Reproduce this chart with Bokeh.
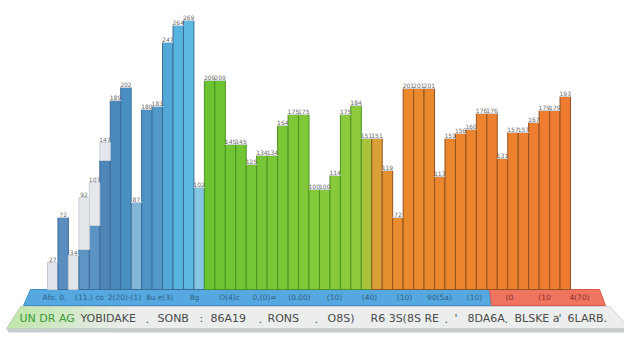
from bokeh.plotting import figure
from bokeh.models import Range1d, ColumnDataSource
from bokeh.core.properties import value
from bokeh.embed import file_html
from bokeh.resources import INLINE

# ---- data ----
main_vals = [27, 72, 34, 40, 64, 129, 189, 202, 87, 180,
             183, 247, 264, 269, 102, 209, 209, 145, 145, 125,
             134, 134, 164, 175, 175, 100, 100, 114, 175, 184,
             151, 151, 119, 72, 201, 201, 201, 113, 151, 156,
             160, 176, 176, 131, 157, 157, 167, 179, 179, 193]
cap_vals = [0, 0, 0, 52, 43, 18] + [0] * 44
band_labels = ["Afo. 0.", "(11.) co", "2(20)-(1)", "8u e(3)", "8g", "O(4)c",
               "0,(0)=", "(0.00)", "(10)", "(40)", "(10)", "90(5a)",
               "(10)", "(0", "(10", "4(70)"]
footer_green = "UN DR AG"
footer_words = ["YOBIDAKE", ".", "SONB", ":", "86A19", ".", "RONS", ".",
                "O8S)", "R6 3S(8S RE", ".", "'", "8DA6A", ".", "BLSKE a", "'", "6LARB."]

n = len(main_vals)

# ---- colours (style) ----
def bar_color(i):
    light = {0: "#dfe4ea", 2: "#e1e5ea"}
    blues = {1: "#5a8ec0", 3: "#5d95c5", 4: "#5b93c4", 5: "#4e86b8", 6: "#4b88bb",
             7: "#4a8fc2", 8: "#82b5d6", 9: "#4e93c4", 10: "#4f98c8", 11: "#52a8d6",
             12: "#58b3de", 13: "#5bb9e0", 14: "#86c6e0"}
    if i in light:
        return light[i]
    if i in blues:
        return blues[i]
    if i < 30:
        t = (i - 15) / 14
        r = int(0x6a + t * (0x8e - 0x6a)); g = int(0xc4 + t * (0xcb - 0xc4)); b = int(0x30 + t * (0x3e - 0x30))
        return "#%02x%02x%02x" % (r, g, b)
    if i == 30:
        return "#a8c23b"
    if i == 31:
        return "#d9a037"
    if i == 32:
        return "#e3902f"
    t = (i - 33) / 16
    r = int(0xea + t * (0xef - 0xea)); g = int(0x8c - t * (0x8c - 0x7b)); b = int(0x2d + t * 4)
    return "#%02x%02x%02x" % (r, g, b)

def line_color(i):
    if i in (0, 2):
        return "#c3cad3"
    if i < 15:
        return "#3b6d98"
    if i < 31:
        return "#4b9322"
    return "#93511c"

colors = [bar_color(i) for i in range(n)]
lines = [line_color(i) for i in range(n)]

# ---- geometry ----
W, H = 624, 344
PX = 10.46
x0 = -0.5 - (55 - 8) / PX
x1 = x0 + W / PX
def X(px):
    return x0 + (px - 8) / PX
def Y(py):
    return 297 - py

p = figure(width=W, height=H, output_backend="svg", toolbar_location=None,
           x_range=Range1d(x0, x1), y_range=Range1d(-55, 289),
           min_border=0, outline_line_color=None, background_fill_color="white")
p.axis.visible = False
p.grid.visible = False

# base: blue band with red end
p.patch([X(38), X(497), X(499), X(31)], [Y(297), Y(297), Y(313), Y(313)],
        fill_color="#55a9e0", line_color="#3f8cc4", line_width=1)
p.patch([X(497), X(607), X(613), X(499)], [Y(297), Y(297), Y(313), Y(313)],
        fill_color="#f07561", line_color="#d8594a", line_width=1)

# base: gray slab
p.patch([X(28), X(617), X(638), X(14)], [Y(314), Y(314), Y(336), Y(336)],
        fill_color="#eceeee", line_color="#cfd3d3", line_width=1)
p.patch([X(14), X(638), X(637), X(16)], [Y(336), Y(336), Y(340), Y(340)],
        fill_color="#c8cccc", line_color=None)
for k in range(10):
    a = 0.55 * (1 - k / 10)
    l, r = 14 + k * 11, 14 + (k + 1) * 11
    p.patch([X(l + 14), X(r + 14), X(r), X(l)], [Y(314), Y(314), Y(336), Y(336)],
            fill_color="#9fe07a", fill_alpha=a, line_color=None)

# bars
src = ColumnDataSource(dict(x=list(range(n)), top=main_vals, fill=colors, line=lines,
                            cap_top=[m + c for m, c in zip(main_vals, cap_vals)],
                            lab=[str(m + c) for m, c in zip(main_vals, cap_vals)]))
p.vbar(x="x", top="top", bottom=0, width=1.0, source=src,
       fill_color="fill", line_color="line", line_width=1)
p.vbar(x="x", top="cap_top", bottom="top", width=1.0, source=src,
       fill_color="#e4e8ed", line_color="#c9d0d8", line_width=1)

# value labels
p.text(x="x", y="cap_top", text="lab", source=src, text_align="center",
       text_baseline="bottom", text_font_size="6px", text_color="#6a6a6a",
       text_font=value("DejaVu Sans"), y_offset=-1)

# band labels
bx = [62 + k * 35 for k in range(len(band_labels))]
p.text(x=[X(v) for v in bx], y=[Y(305)] * len(bx), text=band_labels,
       text_align="center", text_baseline="middle", text_font_size="7.5px",
       text_color=["#305f86" if v < 495 else "#8a2d22" for v in bx],
       text_font=value("DejaVu Sans"))

# footer text
p.text(x=[X(27)], y=[Y(326)], text=[footer_green], text_align="left", text_baseline="middle",
       text_font_size="11px", text_color="#3a9a35", text_font=value("DejaVu Sans"))
fx = [88, 153, 165, 207, 218, 266, 275, 322, 335, 378, 452, 462, 475, 512, 522, 566, 575]
p.text(x=[X(v) for v in fx], y=[Y(326)] * len(fx), text=footer_words, text_align="left",
       text_baseline="middle", text_font_size="11px", text_color="#4a4a4a",
       text_font=value("DejaVu Sans"))

open("out.html", "w").write(file_html(p, INLINE))
